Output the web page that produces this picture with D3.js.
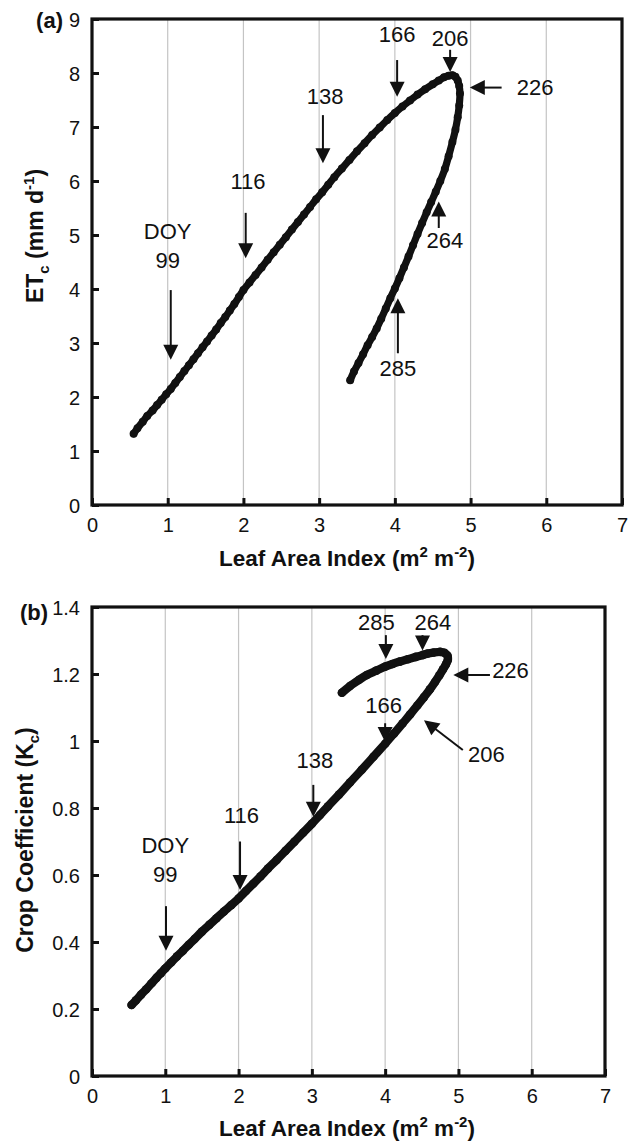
<!DOCTYPE html>
<html>
<head>
<meta charset="utf-8">
<script src="https://cdn.jsdelivr.net/npm/d3@7"></script>
<style>
  body { margin: 0; background: #fff; }
  text { font-family: "Liberation Sans", Arial, Helvetica, sans-serif; fill: #111; }
</style>
</head>
<body>
<div id="chart"></div>
<script>
// LAI vs ETc (panel a), DOY 99 -> end of season
const etcPoints = [
  [0.55,1.32],[0.60,1.42],[0.67,1.54],[0.73,1.65],[0.80,1.75],[0.86,1.85],[0.92,1.95],[0.98,2.05],
  [1.04,2.15],[1.10,2.26],[1.16,2.37],[1.22,2.48],[1.28,2.59],[1.34,2.70],[1.40,2.81],[1.46,2.92],
  [1.52,3.03],[1.58,3.14],[1.64,3.25],[1.70,3.37],[1.76,3.48],[1.82,3.60],[1.88,3.72],[1.94,3.85],
  [2.00,3.98],[2.08,4.12],[2.16,4.26],[2.24,4.40],[2.32,4.54],[2.40,4.68],[2.48,4.82],[2.56,4.96],
  [2.64,5.10],[2.72,5.24],[2.80,5.38],[2.88,5.52],[2.96,5.66],[3.04,5.79],[3.12,5.93],[3.20,6.07],
  [3.30,6.23],[3.40,6.39],[3.50,6.55],[3.60,6.70],[3.70,6.85],[3.80,6.99],[3.90,7.13],[4.00,7.26],
  [4.10,7.38],[4.20,7.49],[4.30,7.60],[4.40,7.70],[4.50,7.79],[4.58,7.86],[4.65,7.92],[4.71,7.95],
  [4.76,7.96],[4.80,7.93],[4.83,7.86],[4.85,7.76],[4.86,7.62],[4.85,7.40],[4.83,7.18],[4.80,6.95],
  [4.76,6.72],[4.71,6.46],[4.66,6.22],[4.60,6.00],[4.54,5.80],[4.48,5.61],[4.42,5.42],[4.36,5.22],
  [4.30,5.02],[4.24,4.81],[4.18,4.60],[4.12,4.40],[4.06,4.20],[4.00,4.01],[3.94,3.83],[3.88,3.64],
  [3.82,3.45],[3.76,3.27],[3.70,3.11],[3.64,2.96],[3.58,2.79],[3.52,2.63],[3.46,2.47],[3.41,2.31]
];

// LAI vs Kc (panel b)
const kcPoints = [
  [0.54,0.212],[0.60,0.226],[0.67,0.243],[0.74,0.259],[0.81,0.276],[0.88,0.293],[0.94,0.307],[1.00,0.321],
  [1.08,0.339],[1.16,0.357],[1.24,0.374],[1.32,0.392],[1.40,0.409],[1.50,0.431],[1.60,0.451],[1.70,0.471],
  [1.80,0.491],[1.90,0.510],[2.00,0.530],[2.10,0.552],[2.20,0.574],[2.30,0.596],[2.40,0.619],[2.52,0.645],
  [2.64,0.672],[2.76,0.699],[2.88,0.726],[3.00,0.753],[3.11,0.779],[3.22,0.805],[3.37,0.840],[3.52,0.876],
  [3.68,0.914],[3.84,0.953],[4.00,0.992],[4.12,1.022],[4.24,1.053],[4.34,1.079],[4.44,1.106],[4.53,1.131],
  [4.61,1.154],[4.68,1.176],[4.74,1.196],[4.79,1.214],[4.83,1.229],[4.855,1.242],[4.85,1.255],[4.81,1.263],
  [4.75,1.266],[4.66,1.264],[4.58,1.261],[4.52,1.257],[4.42,1.251],[4.31,1.244],[4.20,1.237],[4.10,1.230],
  [4.00,1.222],[3.88,1.210],[3.75,1.197],[3.64,1.182],[3.52,1.164],[3.41,1.144]
];

const xTicks = [0, 1, 2, 3, 4, 5, 6, 7];
const etcTicks = [0, 1, 2, 3, 4, 5, 6, 7, 8, 9];
const kcTicks = [0, 0.2, 0.4, 0.6, 0.8, 1, 1.2, 1.4];

// DOY labels: text anchor point and arrow tail -> tip, in data units
const etcNotes = [
  { lines: ["DOY", "99"], lx: 1.00, ly: 4.93, anchor: "middle", arrow: [1.04, 3.98, 1.04, 2.69] },
  { lines: ["116"], lx: 2.06, ly: 5.85, anchor: "middle", arrow: [2.03, 5.41, 2.03, 4.57] },
  { lines: ["138"], lx: 3.08, ly: 7.43, anchor: "middle", arrow: [3.05, 7.22, 3.05, 6.33] },
  { lines: ["166"], lx: 4.03, ly: 8.57, anchor: "middle", arrow: [4.03, 8.24, 4.03, 7.56] },
  { lines: ["206"], lx: 4.73, ly: 8.50, anchor: "middle", arrow: [4.73, 8.43, 4.73, 8.02] },
  { lines: ["226"], lx: 5.61, ly: 7.59, anchor: "start", arrow: [5.41, 7.73, 4.99, 7.73] },
  { lines: ["264"], lx: 4.66, ly: 4.76, anchor: "middle", arrow: [4.58, 5.13, 4.58, 5.62] },
  { lines: ["285"], lx: 4.04, ly: 2.38, anchor: "middle", arrow: [4.04, 2.81, 4.04, 3.83] }
];
const kcNotes = [
  { lines: ["DOY", "99"], lx: 1.00, ly: 0.667, anchor: "middle", arrow: [1.01, 0.507, 1.01, 0.374] },
  { lines: ["116"], lx: 2.04, ly: 0.754, anchor: "middle", arrow: [2.02, 0.700, 2.02, 0.555] },
  { lines: ["138"], lx: 3.04, ly: 0.919, anchor: "middle", arrow: [3.02, 0.869, 3.02, 0.774] },
  { lines: ["166"], lx: 3.98, ly: 1.083, anchor: "middle", arrow: [4.00, 1.053, 4.00, 0.997] },
  { lines: ["206"], lx: 5.13, ly: 0.938, anchor: "start", arrow: [5.06, 0.973, 4.53, 1.062] },
  { lines: ["226"], lx: 5.46, ly: 1.187, anchor: "start", arrow: [5.43, 1.197, 4.93, 1.197] },
  { lines: ["264"], lx: 4.65, ly: 1.331, anchor: "middle", arrow: [4.51, 1.316, 4.51, 1.270] },
  { lines: ["285"], lx: 3.88, ly: 1.331, anchor: "middle", arrow: [4.01, 1.316, 4.01, 1.245] }
];

const width = 634, height = 1141;

const svg = d3.select("#chart").append("svg")
    .attr("width", width)
    .attr("height", height)
    .attr("viewBox", [0, 0, width, height]);

svg.append("rect").attr("width", width).attr("height", height).attr("fill", "#fff");

function drawPanel(cfg) {
    const x = d3.scaleLinear().domain([0, 7]).range([cfg.left, cfg.right]);
    const y = d3.scaleLinear().domain(cfg.yDomain).range([cfg.bottom, cfg.top]);
    const g = svg.append("g");

    // vertical grid lines
    g.append("g").selectAll("line")
        .data(xTicks.filter(d => d > 0 && d < 7))
        .join("line")
            .attr("x1", d => x(d)).attr("x2", d => x(d))
            .attr("y1", cfg.top).attr("y2", cfg.bottom)
            .attr("stroke", "#c4c4c4")
            .attr("stroke-width", 1.2);

    // axes with inward ticks
    const xAxis = g.append("g")
        .attr("transform", `translate(0,${cfg.bottom})`)
        .call(d3.axisBottom(x).tickValues(xTicks).tickSize(-7).tickFormat(d3.format("d")));
    const yAxis = g.append("g")
        .attr("transform", `translate(${cfg.left},0)`)
        .call(d3.axisLeft(y).tickValues(cfg.yTicks).tickSize(-7).tickFormat(d => String(+d.toFixed(1))));
    [xAxis, yAxis].forEach(a => {
        a.select(".domain").remove();
        a.selectAll(".tick line").attr("stroke", "#111").attr("stroke-width", 3);
        a.selectAll(".tick text").attr("font-size", 20).attr("fill", "#111")
            .attr("font-family", "Liberation Sans, Arial, sans-serif");
    });
    xAxis.selectAll(".tick text").attr("y", 27).attr("dy", null);
    yAxis.selectAll(".tick text").attr("x", -12).attr("dy", 7);

    // frame
    g.append("rect")
        .attr("x", cfg.left).attr("y", cfg.top)
        .attr("width", cfg.right - cfg.left).attr("height", cfg.bottom - cfg.top)
        .attr("fill", "none").attr("stroke", "#111").attr("stroke-width", 3.2);

    // data: thick line plus daily dots
    const line = d3.line().x(d => x(d[0])).y(d => y(d[1])).curve(d3.curveCatmullRom);
    g.append("path")
        .datum(cfg.points)
        .attr("d", line)
        .attr("fill", "none")
        .attr("stroke", "#111")
        .attr("stroke-width", cfg.lineWidth)
        .attr("stroke-linecap", "round")
        .attr("stroke-linejoin", "round");
    g.append("g").selectAll("circle")
        .data(cfg.points)
        .join("circle")
            .attr("cx", d => x(d[0]))
            .attr("cy", d => y(d[1]))
            .attr("r", cfg.dotR)
            .attr("fill", "#111");

    // DOY annotations
    const head = 15, half = 7.5;
    cfg.notes.forEach(n => {
        const [tx, ty, px, py] = n.arrow;
        const x1 = x(tx), y1 = y(ty), x2 = x(px), y2 = y(py);
        const len = Math.hypot(x2 - x1, y2 - y1);
        const ux = (x2 - x1) / len, uy = (y2 - y1) / len;
        const bx = x2 - ux * head, by = y2 - uy * head;
        g.append("line")
            .attr("x1", x1).attr("y1", y1).attr("x2", bx + ux * 1).attr("y2", by + uy * 1)
            .attr("stroke", "#111").attr("stroke-width", 2);
        g.append("path")
            .attr("d", `M${x2},${y2}L${bx - uy * half},${by + ux * half}L${bx + uy * half},${by - ux * half}Z`)
            .attr("fill", "#111");
        const t = g.append("text")
            .attr("x", x(n.lx)).attr("y", y(n.ly))
            .attr("text-anchor", n.anchor)
            .attr("font-size", 22);
        n.lines.forEach((s, i) => {
            t.append("tspan").attr("x", x(n.lx)).attr("dy", i === 0 ? 0 : 29).text(s);
        });
    });

    // x axis title
    const xt = g.append("text")
        .attr("x", 347).attr("y", cfg.xTitleY)
        .attr("text-anchor", "middle")
        .attr("font-size", 22.5).attr("font-weight", "bold");
    xt.append("tspan").text("Leaf Area Index (m");
    xt.append("tspan").attr("dy", -9).attr("font-size", 15).text("2");
    xt.append("tspan").attr("dy", 9).text(" m");
    xt.append("tspan").attr("dy", -9).attr("font-size", 15).text("-2");
    xt.append("tspan").attr("dy", 9).text(")");

    // y axis title
    const yt = g.append("text")
        .attr("transform", `translate(${cfg.yTitleX},${cfg.yTitleY}) rotate(-90)`)
        .attr("text-anchor", "middle")
        .attr("font-size", 23).attr("font-weight", "bold");
    cfg.yTitle(yt);

    // panel letter
    svg.append("text")
        .attr("x", cfg.letterX).attr("y", cfg.letterY)
        .attr("text-anchor", "end")
        .attr("font-family", "Liberation Serif, Times New Roman, serif")
        .attr("font-weight", "bold").attr("font-size", 22)
        .text(cfg.letter);
}

drawPanel({
    left: 92, right: 622, top: 19, bottom: 505,
    yDomain: [0, 9], yTicks: etcTicks,
    points: etcPoints, lineWidth: 7.2, dotR: 4,
    notes: etcNotes,
    xTitleY: 566, yTitleX: 43, yTitleY: 236,
    letter: "(a)", letterX: 63, letterY: 28,
    yTitle: t => {
        t.append("tspan").text("ET");
        t.append("tspan").attr("dy", 6).attr("font-size", 15).text("c");
        t.append("tspan").attr("dy", -6).text(" (mm d");
        t.append("tspan").attr("dy", -9).attr("font-size", 15).text("-1");
        t.append("tspan").attr("dy", 9).text(")");
    }
});

drawPanel({
    left: 92, right: 605, top: 607, bottom: 1076,
    yDomain: [0, 1.4], yTicks: kcTicks,
    points: kcPoints, lineWidth: 8.4, dotR: 4.3,
    notes: kcNotes,
    xTitleY: 1136, yTitleX: 33, yTitleY: 840,
    letter: "(b)", letterX: 48, letterY: 620,
    yTitle: t => {
        t.append("tspan").text("Crop Coefficient (K");
        t.append("tspan").attr("dy", 6).attr("font-size", 15).text("c");
        t.append("tspan").attr("dy", -6).text(")");
    }
});
</script>
</body>
</html>
